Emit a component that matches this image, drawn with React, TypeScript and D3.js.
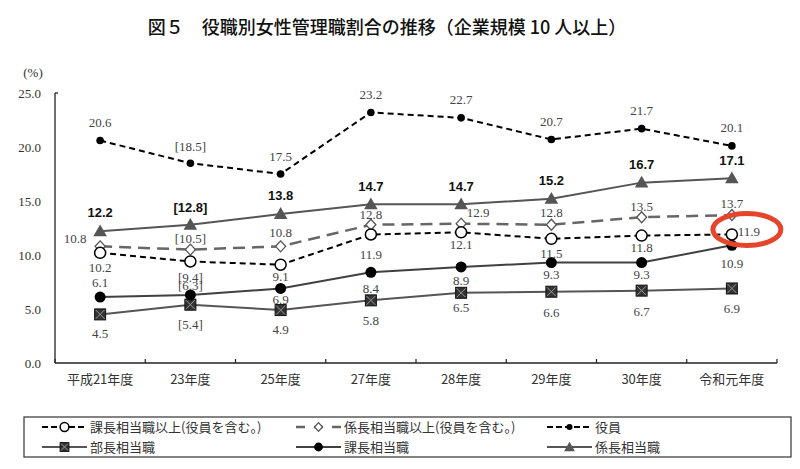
import React from 'react';
import * as d3 from 'd3';

const categories = ['平成21年度', '23年度', '25年度', '27年度', '28年度', '29年度', '30年度', '令和元年度'];
const kachoIjoValues = [10.2, 9.4, 9.1, 11.9, 12.1, 11.5, 11.8, 11.9];
const kakarichoIjoValues = [10.8, 10.5, 10.8, 12.8, 12.9, 12.8, 13.5, 13.7];
const yakuinValues = [20.6, 18.5, 17.5, 23.2, 22.7, 20.7, 21.7, 20.1];
const buchoValues = [4.5, 5.4, 4.9, 5.8, 6.5, 6.6, 6.7, 6.9];
const kachoValues = [6.1, 6.3, 6.9, 8.4, 8.9, 9.3, 9.3, 10.9];
const kakarichoValues = [12.2, 12.8, 13.8, 14.7, 14.7, 15.2, 16.7, 17.1];
const bracketedIndex = 1;
const yTicks = [0, 5, 10, 15, 20, 25];
const seriesNames = [
  '課長相当職以上(役員を含む。)',
  '係長相当職以上(役員を含む。)',
  '役員',
  '部長相当職',
  '課長相当職',
  '係長相当職',
];
const titleText = '図５　役職別女性管理職割合の推移（企業規模 10 人以上）';

type Marker = 'openCircle' | 'diamond' | 'dot' | 'xsquare' | 'bigDot' | 'triangle';
interface Series {
  name: string;
  values: number[];
  color: string;
  width: number;
  dash: string | null;
  marker: Marker;
  bold: boolean;
  labelDx: number[];
  labelDy: number[];
}

const series: Series[] = [
  { name: seriesNames[3], values: buchoValues, color: '#555', width: 2, dash: null, marker: 'xsquare', bold: false,
    labelDx: [0, 0, 0, 0, 0, 0, 0, 0], labelDy: [19, 20, 19, 20, 15, 21, 21, 20] },
  { name: seriesNames[4], values: kachoValues, color: '#404040', width: 2, dash: null, marker: 'bigDot', bold: false,
    labelDx: [0, 0, 0, 0, 0, 0, 0, 0], labelDy: [-15, -9, 11, 16, 14, 12, 12, 18] },
  { name: seriesNames[5], values: kakarichoValues, color: '#555', width: 2, dash: null, marker: 'triangle', bold: true,
    labelDx: [0, 0, 0, 0, 0, 0, 0, 0], labelDy: [-19, -17, -18, -18, -18, -18, -18, -18] },
  { name: seriesNames[1], values: kakarichoIjoValues, color: '#666', width: 2.5, dash: '12,7', marker: 'diamond', bold: false,
    labelDx: [-25, 0, 0, 0, 17, 0, 0, 0], labelDy: [-8, -11, -14, -10, -11, -12, -11, -12] },
  { name: seriesNames[0], values: kachoIjoValues, color: '#000', width: 2, dash: '6,4', marker: 'openCircle', bold: false,
    labelDx: [0, 0, 0, 0, 0, 0, 0, 17], labelDy: [15, 16, 12, 20, 12, 15, 12, -3] },
  { name: seriesNames[2], values: yakuinValues, color: '#000', width: 2, dash: '6,4', marker: 'dot', bold: false,
    labelDx: [0, 0, 0, 0, 0, 0, 0, 0], labelDy: [-18, -17, -18, -18, -18, -18, -18, -18] },
];

const serif = '"Liberation Serif", "DejaVu Serif", "Noto Sans CJK JP", serif';
const cjk = '"Noto Sans CJK JP", sans-serif';

function MarkerShape({ type, x, y, small }: { type: Marker; x: number; y: number; small?: boolean }) {
  const k = small ? 0.8 : 1;
  switch (type) {
    case 'openCircle':
      return <circle cx={x} cy={y} r={5.5 * k} fill="#fff" stroke="#000" strokeWidth={1.5} />;
    case 'diamond':
      return <path d={`M${x},${y - 5.5 * k}L${x + 5 * k},${y}L${x},${y + 5.5 * k}L${x - 5 * k},${y}Z`} fill="#fff" stroke="#555" strokeWidth={1.3} />;
    case 'dot':
      return <circle cx={x} cy={y} r={3.8 * k} fill="#000" />;
    case 'bigDot':
      return <circle cx={x} cy={y} r={5.5 * k} fill="#000" />;
    case 'xsquare': {
      const h = 5.5 * k;
      return (
        <g>
          <rect x={x - h} y={y - h} width={2 * h} height={2 * h} fill="#333" stroke="#111" strokeWidth={1} />
          <path d={`M${x - h + 1},${y - h + 1}L${x + h - 1},${y + h - 1}M${x + h - 1},${y - h + 1}L${x - h + 1},${y + h - 1}`} stroke="#999" strokeWidth={1} />
        </g>
      );
    }
    case 'triangle': {
      const p = d3.symbol(d3.symbolTriangle, 80 * k * k)() as string;
      return <path d={p} transform={`translate(${x},${y + 1})`} fill="#555" />;
    }
  }
}

export default function App() {
  const width = 800;
  const height = 469;
  const x = d3.scaleBand<string>().domain(categories).range([55, 777]);
  const y = d3.scaleLinear().domain([0, 25]).range([363, 93]);
  const cx = (c: string) => (x(c) as number) + x.bandwidth() / 2;
  const line = d3.line<number>().x((_, i) => cx(categories[i])).y((d) => y(d));

  const boundaries = categories.map((c) => x(c) as number).concat([777]);

  const legendItems = [
    { s: series[4], lx: 42, ly: 427 },
    { s: series[3], lx: 296, ly: 427 },
    { s: series[5], lx: 547, ly: 427 },
    { s: series[0], lx: 42, ly: 447 },
    { s: series[1], lx: 296, ly: 447 },
    { s: series[2], lx: 547, ly: 447 },
  ];

  const fmt = (v: number, i: number) => (i === bracketedIndex ? `[${v.toFixed(1)}]` : v.toFixed(1));

  return (
    <svg width={width} height={height} style={{ position: 'absolute', left: 0, top: 0, background: '#fff' }}>
      <rect width={width} height={height} fill="#fff" />
      <text x={387} y={34} textAnchor="middle" fontFamily={cjk} fontSize={18} fontWeight={500} fill="#111">
        {titleText}
      </text>
      <text x={33} y={77} textAnchor="middle" fontFamily={serif} fontSize={13} fill="#333">(%)</text>

      {/* axes */}
      <line x1={55} x2={55} y1={y(25)} y2={y(0)} stroke="#222" strokeWidth={1.3} />
      <line x1={55} x2={58} y1={y(25)} y2={y(25)} stroke="#222" strokeWidth={1.3} />
      <line x1={55} x2={777} y1={y(0)} y2={y(0)} stroke="#222" strokeWidth={1.3} />
      {boundaries.map((b, i) => (
        <line key={i} x1={b} x2={b} y1={y(0)} y2={y(0) - 4} stroke="#222" strokeWidth={1.2} />
      ))}
      {yTicks.map((t) => (
        <text key={t} x={41} y={y(t) + 4.5} textAnchor="end" fontFamily={serif} fontSize={13} fill="#333">
          {t.toFixed(1)}
        </text>
      ))}
      {categories.map((c) => (
        <text key={c} x={cx(c)} y={384} textAnchor="middle" fontFamily={cjk} fontSize={13} fill="#333">
          {c}
        </text>
      ))}

      {/* lines */}
      {series.map((s) => (
        <path key={s.name} d={line(s.values) as string} fill="none" stroke={s.color} strokeWidth={s.width}
          strokeDasharray={s.dash ?? undefined} />
      ))}
      {/* markers */}
      {series.map((s) => (
        <g key={s.name + 'm'}>
          {s.values.map((v, i) => (
            <MarkerShape key={i} type={s.marker} x={cx(categories[i])} y={y(v)} />
          ))}
        </g>
      ))}
      {/* labels */}
      {series.map((s) => (
        <g key={s.name + 'l'}>
          {s.values.map((v, i) => (
            <text key={i} x={cx(categories[i]) + s.labelDx[i]} y={y(v) + s.labelDy[i] + 4.5} textAnchor="middle"
              fontFamily={s.bold ? '"Liberation Sans", Arial, sans-serif' : serif}
              fontWeight={s.bold ? 'bold' : 'normal'} fontSize={13} fill={s.bold ? '#111' : '#444'}>
              {fmt(v, i)}
            </text>
          ))}
        </g>
      ))}

      {/* highlight ellipse */}
      <ellipse cx={cx(categories[7]) + 15} cy={y(kachoIjoValues[7]) - 5} rx={34} ry={16} fill="none" stroke="#e5462b" strokeWidth={5} />

      {/* legend */}
      <rect x={24} y={417} width={767} height={40} fill="none" stroke="#333" strokeWidth={1.2} />
      {legendItems.map(({ s, lx, ly }) => (
        <g key={s.name + 'leg'}>
          <line x1={lx} x2={lx + 45} y1={ly} y2={ly} stroke={s.color} strokeWidth={s.width}
            strokeDasharray={s.dash ? (s.marker === 'diamond' ? '9,9' : '6,3') : undefined} />
          <MarkerShape type={s.marker} x={lx + 22.5} y={ly} small />
          <text x={lx + 48} y={ly + 4.5} fontFamily={cjk} fontSize={13} fill="#333">{s.name}</text>
        </g>
      ))}
    </svg>
  );
}
